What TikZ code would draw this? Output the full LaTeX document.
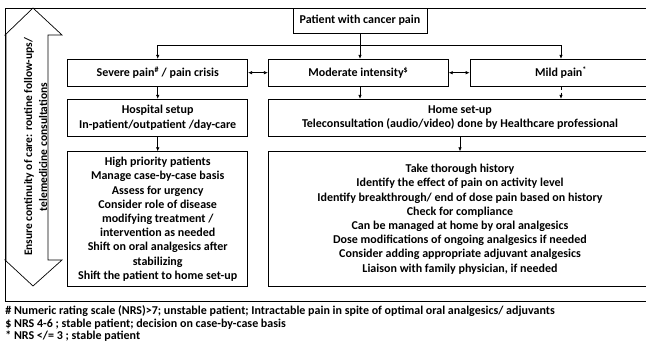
\documentclass[tikz,border=0pt]{standalone}
\usepackage{fontspec}
\setmainfont{Carlito}
\usetikzlibrary{arrows.meta,positioning}
\tikzset{
    box/.style = {draw, rectangle, align=center, inner sep=2pt,
        font=\bfseries\fontsize{12}{14.2}\selectfont},
    arrow/.style = {draw, -{Latex[length=4pt,width=3.5pt]}},
    biarrow/.style = {draw, {Latex[length=4pt,width=3.5pt]}-{Latex[length=4pt,width=3.5pt]}},
    note/.style = {anchor=base west, inner sep=0pt, font=\bfseries\fontsize{12}{12.5}\selectfont}
}

\begin{document}
\begin{tikzpicture}[x=1pt, y=-1pt, line width=0.7pt]
    \useasboundingbox (0,0) rectangle (646,343);
    \clip (0,0) rectangle (646,343);
    % frame
    \draw (670,8) -- (5,8) -- (5,301) -- (670,301);
    % continuity arrow
    \draw (33,8) -- (62,35) -- (48,35) -- (48,260) -- (62,260) -- (33,286)
        -- (5,260) -- (6,260) -- (6,35) -- (5,35) -- cycle;
    \node [rotate=90, align=center, inner sep=0pt,
        font=\bfseries\fontsize{11.5}{15}\selectfont] (care) at (35.5,147)
        {Ensure continuity of care: routine follow-ups/\\telemedicine consultations};
    % boxes
    \node [box, minimum width=134, minimum height=25] (patient) at (360,20.7) {Patient with cancer pain};
    \node [box, minimum width=180, minimum height=27] (severe) at (157.7,72.7) {Severe pain\textsuperscript{\#} / pain crisis};
    \node [box, minimum width=180, minimum height=27] (moderate) at (358.3,72.7) {Moderate intensity\textsuperscript{\$}};
    \node [box, minimum width=182, minimum height=27] (mild) at (561,72.7) {Mild pain\textsuperscript{*}};
    \node [box, minimum width=180, minimum height=37] (hospital) at (157.7,117.7) {Hospital setup\\In-patient/outpatient /day-care};
    \node [box, minimum width=384, minimum height=37] (home) at (460,117.7) {Home set-up\\Teleconsultation (audio/video) done by Healthcare professional};
    \node [box, minimum width=180, minimum height=135] (hospcare) at (157.7,219.2) {High priority patients\\Manage case-by-case basis\\Assess for urgency\\Consider role of disease\\modifying treatment /\\intervention as needed\\Shift on oral analgesics after\\stabilizing\\Shift the patient to home set-up};
    \node [box, minimum width=384, minimum height=135] (homecare) at (460,219.2) {Take thorough history\\Identify the effect of pain on activity level\\Identify breakthrough/ end of dose pain based on history\\Check for compliance\\Can be managed at home by oral analgesics\\Dose modifications of ongoing analgesics if needed\\Consider adding appropriate adjuvant analgesics\\Liaison with family physician, if needed};
    % connectors
    \coordinate (split) at (360,45);
    \draw [arrow] (patient) -- (moderate.north -| patient);
    \draw [arrow] (split) -| (severe);
    \draw [arrow] (split) -| (mild);
    \draw [biarrow] (severe) -- (moderate);
    \draw [biarrow] (moderate) -- (mild);
    \draw [arrow] (severe) -- (hospital);
    \draw [arrow] (moderate.south -| patient) -- (home.north -| patient);
    \draw [arrow, dashed] (mild.south) -- (mild.south |- home.north);
    \draw [arrow] (hospital) -- (hospcare);
    \draw [arrow] (home) -- (homecare);
    % footnotes
    \node [note] (fn1) at (5,314.5) {\# Numeric rating scale (NRS)>7; unstable patient; Intractable pain in spite of optimal oral analgesics/ adjuvants};
    \node [note] (fn2) at (5,327) {\$ NRS 4-6 ; stable patient; decision on case-by-case basis};
    \node [note] (fn3) at (5,339.5) {* NRS </= 3 ; stable patient};
\end{tikzpicture}
\end{document}
